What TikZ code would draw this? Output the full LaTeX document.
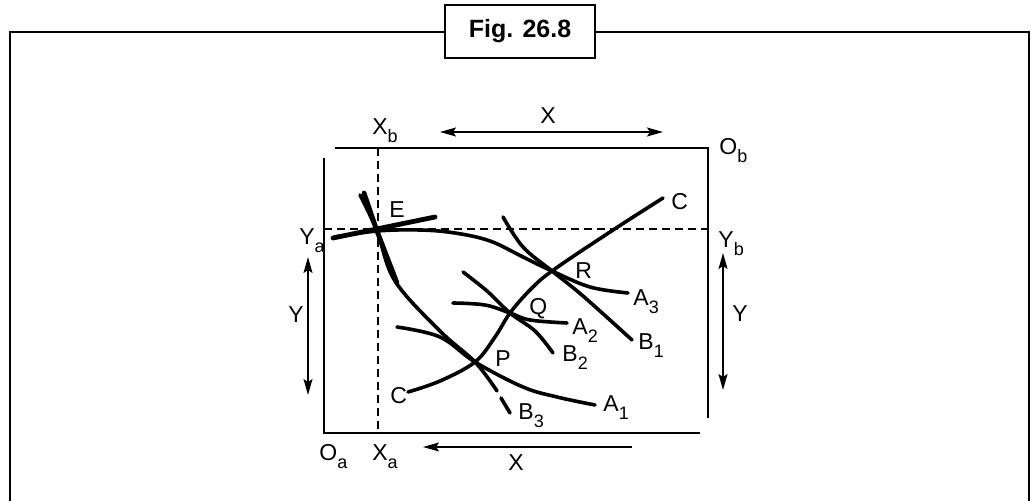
\documentclass[tikz,border=0pt]{standalone}
\usepackage{fontspec}
\setmainfont{Liberation Sans}
\usetikzlibrary{arrows.meta}
\newcommand{\lowidx}[1]{\raisebox{-4pt}{\fontsize{9}{10}\selectfont #1}}
\begin{document}
\begin{tikzpicture}[x=0.5pt,y=-0.5pt,
  lbl/.style={anchor=base west, inner sep=0pt, font=\fontsize{11.5}{13}\selectfont},
  frame/.style={line width=1.2pt},
  axis/.style={line width=1pt},
  guide/.style={line width=0.8pt, dash pattern=on 4pt off 2.5pt},
  curve/.style={line width=1.8pt, line cap=round},
  dim/.style={line width=0.8pt},
  >={Stealth[length=8pt,width=4.5pt,inset=1.5pt]}]
\useasboundingbox (0,0) rectangle (1031,501);
\clip (0,0) rectangle (1031,501);
% frame and title
\draw[frame] (10,510) -- (10,32) -- (1029,32) -- (1029,510);
\node[draw, fill=white, line width=1.2pt, minimum width=75pt, minimum height=26.5pt,
  font=\bfseries\fontsize{12.5}{14}\selectfont] (title) at (520,31.5) {Fig. 26.8};
% the two origins
\coordinate (Oa) at (324,433);
\coordinate (Ob) at (708,148);
\draw[axis] (324,158) -- (Oa) -- (700,433);
\draw[axis] (335,148) -- (Ob) -- (708,418);
\coordinate (Xb) at (378,148);
\coordinate (Xa) at (378,433);
\coordinate (Ya) at (324,229);
\coordinate (Yb) at (708,229);
\draw[guide] (Xb) -- (Xa);
\draw[guide] (Ya) -- (Yb);
% dimension arrows
\coordinate (xtopl) at (440,132);
\coordinate (xtopr) at (663,132);
\coordinate (xbotl) at (423,447);
\coordinate (xbotr) at (632,447);
\coordinate (ylt) at (308,257);
\coordinate (ylb) at (308,395);
\coordinate (yrt) at (723,253);
\coordinate (yrb) at (723,390);
\draw[dim,<->] (xtopl) -- (xtopr);
\draw[dim,->] (xbotr) -- (xbotl);
\draw[dim,<->] (ylt) -- (ylb);
\draw[dim,<->] (yrt) -- (yrb);
% points
\coordinate (E) at (377,231);
\coordinate (P) at (475,362);
\coordinate (Q) at (510,313);
\coordinate (R) at (552,271);
% curves
\draw[curve] plot[smooth,tension=0.6] coordinates {(408,392) (440,381) (P) (495,337) (Q) (530,290) (R) (610,232) (663,198)};
\draw[curve] plot[smooth,tension=0.6] coordinates {(335,237) (E) (420,230) (455,233) (490,241) (523,257) (R) (590,287) (628,293)};
\draw[curve, line width=2.4pt] (333,238) -- (435,217);
\draw[curve] plot[smooth,tension=0.6] coordinates {(360,195) (E) (395,281) (440,331) (P) (497,391)};
\draw[curve, line width=2.4pt] (364,193) -- (E) -- (397,283);
\draw[curve] (501,398) -- (510,413);
\draw[curve] plot[smooth,tension=0.6] coordinates {(397,327) (440,337) (P) (523,387) (557,397) (595,405)};
\draw[curve] plot[smooth,tension=0.6] coordinates {(453,303) (485,305) (Q) (530,320) (567,323)};
\draw[curve] plot[smooth,tension=0.6] coordinates {(463,272) (487,291) (Q) (535,331) (553,353)};
\draw[curve] plot[smooth,tension=0.6] coordinates {(503,217) (523,247) (R) (583,296) (632,340)};
% labels
\node[lbl] (lxb) at (372,135) {X\lowidx{b}};
\node[lbl] (lxt) at (540,124) {X};
\node[lbl] (lob) at (719,155) {O\lowidx{b}};
\node[lbl] (lya) at (299,245) {Y\lowidx{a}};
\node[lbl] (lyb) at (718,248) {Y\lowidx{b}};
\node[lbl] (lyl) at (288,323) {Y};
\node[lbl] (lyr) at (732,322) {Y};
\node[lbl] (lxbot) at (508,470) {X};
\node[lbl] (loa) at (319,460) {O\lowidx{a}};
\node[lbl] (lxa) at (372,460) {X\lowidx{a}};
\node[lbl] (lE) at (389,218) {E};
\node[lbl] (lct) at (671,210) {C};
\node[lbl] (lR) at (575,279) {R};
\node[lbl] (la3) at (633,306) {A\lowidx{3}};
\node[lbl] (lQ) at (529,315) {Q};
\node[lbl] (la2) at (572,335) {A\lowidx{2}};
\node[lbl] (lb1) at (638,350) {B\lowidx{1}};
\node[lbl] (lb2) at (562,362) {B\lowidx{2}};
\node[lbl] (lP) at (495,366) {P};
\node[lbl] (lcb) at (390,403) {C};
\node[lbl] (la1) at (603,411) {A\lowidx{1}};
\node[lbl] (lb3) at (518,419) {B\lowidx{3}};
\end{tikzpicture}
\end{document}
